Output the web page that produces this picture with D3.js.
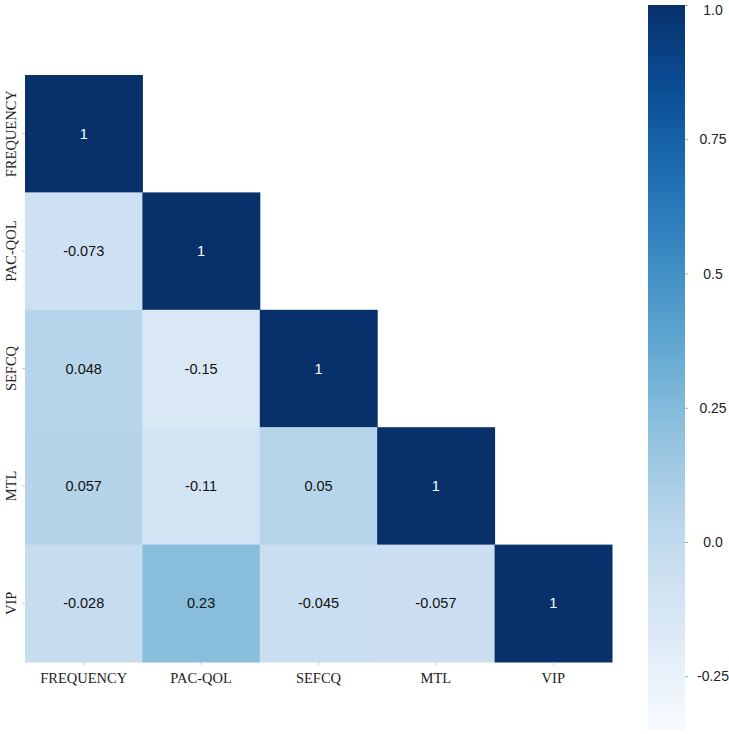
<!DOCTYPE html>
<html>
<head>
<meta charset="utf-8">
<script src="https://cdn.jsdelivr.net/npm/d3@7"></script>
<style>
  body { margin: 0; background: #fff; }
  svg { display: block; }
  .axis-label { font-family: "Liberation Serif", "Times New Roman", serif; font-size: 14.5px; fill: #222; }
  .cell-text { font-family: "Liberation Sans", Arial, sans-serif; font-size: 14.5px; }
  .cbar text { font-family: "Liberation Sans", Arial, sans-serif; font-size: 14px; fill: #222; }
</style>
</head>
<body>
<div id="chart"></div>
<script>
'use strict';

const VARIABLES = ['FREQUENCY', 'PAC-QOL', 'SEFCQ', 'MTL', 'VIP']
// lower triangle of the correlation matrix, row by row
const ROW_FREQUENCY = [1]
const ROW_PACQOL = [-0.073, 1]
const ROW_SEFCQ = [0.048, -0.15, 1]
const ROW_MTL = [0.057, -0.11, 0.05, 1]
const ROW_VIP = [-0.028, 0.23, -0.045, -0.057, 1]
const CBAR_TICKS = [-0.25, 0, 0.25, 0.5, 0.75, 1.0]
const CBAR_LABELS = ['-0.25', '0.0', '0.25', '0.5', '0.75', '1.0']
const CBAR_DOMAIN = [-0.35, 1.0]

const rows = [ROW_FREQUENCY, ROW_PACQOL, ROW_SEFCQ, ROW_MTL, ROW_VIP]
const cells = []
rows.forEach((r, i) => r.forEach((v, j) => cells.push({row: VARIABLES[i], col: VARIABLES[j], value: v})))

const W = 729, H = 734
const m = [75, 117, 72, 25] // top, right, bottom, left
const gw = 587, gh = 587

const svg = d3.select('#chart').append('svg')
  .attr('width', W).attr('height', H)

const g = svg.append('g').attr('transform', 'translate(' + m[3] + ',' + m[0] + ')')

const x = d3.scaleBand().domain(VARIABLES).range([0, gw])
const y = d3.scaleBand().domain(VARIABLES).range([0, gh])
const color = d3.scaleSequential(d3.interpolateBlues).domain(CBAR_DOMAIN)

g.selectAll('rect.cell').data(cells).enter().append('rect')
  .attr('class', 'cell')
  .attr('x', d => x(d.col))
  .attr('y', d => y(d.row))
  .attr('width', x.bandwidth() + 0.5)
  .attr('height', y.bandwidth() + 0.5)
  .attr('fill', d => color(d.value))

g.selectAll('text.cell-text').data(cells).enter().append('text')
  .attr('class', 'cell-text')
  .attr('x', d => x(d.col) + x.bandwidth() / 2)
  .attr('y', d => y(d.row) + y.bandwidth() / 2)
  .attr('dy', '0.35em')
  .attr('text-anchor', 'middle')
  .attr('fill', d => d.value > 0.5 ? '#fff' : '#111')
  .text(d => String(d.value))

// axes: tiny ticks + serif labels
const xAxis = g.append('g').attr('transform', 'translate(0,' + gh + ')')
xAxis.selectAll('line').data(VARIABLES).enter().append('line')
  .attr('x1', d => x(d) + x.bandwidth() / 2).attr('x2', d => x(d) + x.bandwidth() / 2)
  .attr('y1', 0).attr('y2', 3).attr('stroke', '#bbb').attr('stroke-width', 0.8)
xAxis.selectAll('text').data(VARIABLES).enter().append('text')
  .attr('class', 'axis-label')
  .attr('x', d => x(d) + x.bandwidth() / 2)
  .attr('y', 21)
  .attr('text-anchor', 'middle')
  .text(d => d)

const yAxis = g.append('g')
yAxis.selectAll('line').data(VARIABLES).enter().append('line')
  .attr('y1', d => y(d) + y.bandwidth() / 2).attr('y2', d => y(d) + y.bandwidth() / 2)
  .attr('x1', 0).attr('x2', -3).attr('stroke', '#bbb').attr('stroke-width', 0.8)
yAxis.selectAll('text').data(VARIABLES).enter().append('text')
  .attr('class', 'axis-label')
  .attr('transform', d => 'translate(-9,' + (y(d) + y.bandwidth() / 2) + ') rotate(-90)')
  .attr('text-anchor', 'middle')
  .text(d => d)

// colorbar
const cb = { x: 648, y: 5, w: 37, h: 725 }
const cy = d3.scaleLinear().domain(CBAR_DOMAIN).range([cb.y + cb.h, cb.y])
const defs = svg.append('defs')
const grad = defs.append('linearGradient').attr('id', 'cbgrad')
  .attr('x1', 0).attr('x2', 0).attr('y1', 1).attr('y2', 0)
d3.range(0, 1.0001, 0.05).forEach(t => {
  grad.append('stop').attr('offset', t).attr('stop-color', d3.interpolateBlues(t))
})
const cbar = svg.append('g').attr('class', 'cbar')
cbar.append('rect')
  .attr('x', cb.x).attr('y', cb.y).attr('width', cb.w).attr('height', cb.h)
  .attr('fill', 'url(#cbgrad)')
const cAxis = d3.axisRight(cy).tickValues(CBAR_TICKS).tickSize(3).tickPadding(10)
  .tickFormat((d, i) => CBAR_LABELS[i])
const ca = cbar.append('g').attr('transform', 'translate(' + (cb.x + cb.w) + ',0)').call(cAxis)
ca.select('.domain').remove()
ca.selectAll('line').attr('stroke', '#aaa')
ca.selectAll('text').attr('text-anchor', 'middle').attr('x', 28)
  .attr('dy', d => d === 1 ? '0.65em' : '0.32em')
</script>
</body>
</html>
